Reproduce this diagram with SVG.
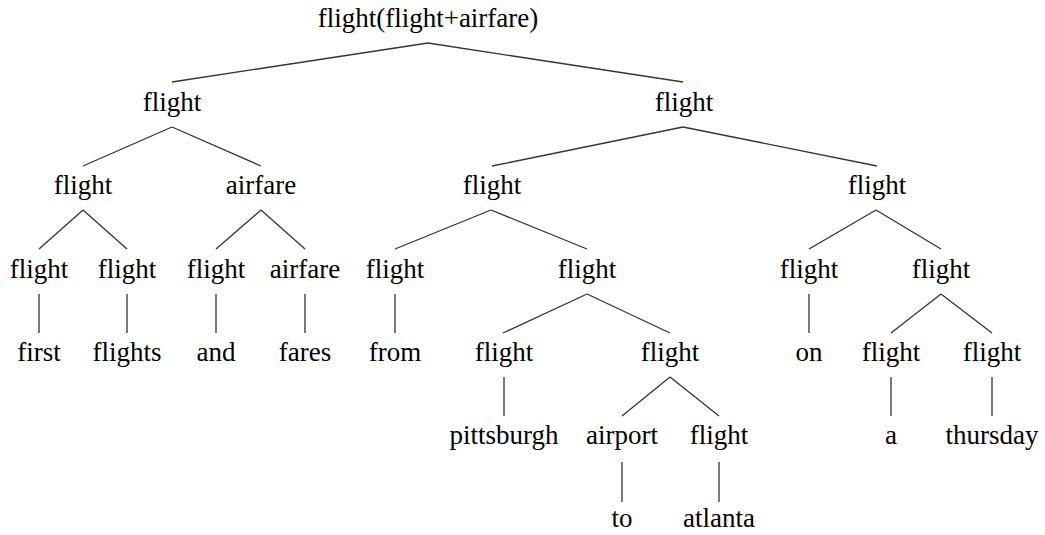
<svg xmlns="http://www.w3.org/2000/svg" width="1045" height="535" viewBox="0 0 1045 535">
<style>
text{font-family:'Liberation Serif','Times New Roman',Times,serif;font-size:27px;fill:#000;text-anchor:middle}
#edges line{stroke:#333;stroke-width:1.3;fill:none}
</style>
<rect width="1045" height="535" fill="#fff"/>
<g id="edges">
<line x1="428" y1="43" x2="172" y2="82"/>
<line x1="428" y1="43" x2="683" y2="82"/>
<line x1="172" y1="127" x2="83" y2="166"/>
<line x1="172" y1="127" x2="261" y2="166"/>
<line x1="683" y1="127" x2="492" y2="166"/>
<line x1="683" y1="127" x2="877" y2="166"/>
<line x1="83" y1="210" x2="39" y2="249"/>
<line x1="83" y1="210" x2="127" y2="249"/>
<line x1="261" y1="210" x2="216" y2="249"/>
<line x1="261" y1="210" x2="305" y2="249"/>
<line x1="491" y1="210" x2="395" y2="249"/>
<line x1="491" y1="210" x2="587" y2="249"/>
<line x1="876" y1="210" x2="809" y2="249"/>
<line x1="876" y1="210" x2="941" y2="249"/>
<line x1="39" y1="294" x2="39" y2="333"/>
<line x1="127" y1="294" x2="127" y2="333"/>
<line x1="216" y1="294" x2="216" y2="333"/>
<line x1="305" y1="294" x2="305" y2="333"/>
<line x1="395" y1="294" x2="395" y2="333"/>
<line x1="587" y1="294" x2="503" y2="333"/>
<line x1="587" y1="294" x2="670" y2="333"/>
<line x1="809" y1="294" x2="809" y2="333"/>
<line x1="941" y1="294" x2="891" y2="333"/>
<line x1="941" y1="294" x2="992" y2="333"/>
<line x1="504" y1="377" x2="504" y2="416"/>
<line x1="670" y1="377" x2="622" y2="416"/>
<line x1="670" y1="377" x2="719" y2="416"/>
<line x1="891" y1="377" x2="891" y2="416"/>
<line x1="992" y1="377" x2="992" y2="416"/>
<line x1="622" y1="462" x2="622" y2="502"/>
<line x1="719" y1="462" x2="719" y2="502"/>
</g>
<g font-family="Liberation Serif, serif">
<g id="n_root"><text x="428" y="27">flight(flight+airfare)</text></g>
<g id="n_L"><text x="172" y="111">flight</text></g>
<g id="n_R"><text x="684" y="111">flight</text></g>
<g id="n_LL"><text x="83" y="194">flight</text></g>
<g id="n_LR"><text x="261" y="194">airfare</text></g>
<g id="n_RL"><text x="492" y="194">flight</text></g>
<g id="n_RR"><text x="877" y="194">flight</text></g>
<g id="n_LLL"><text x="39" y="278">flight</text></g>
<g id="n_LLR"><text x="127" y="278">flight</text></g>
<g id="n_LRL"><text x="216" y="278">flight</text></g>
<g id="n_LRR"><text x="305" y="278">airfare</text></g>
<g id="n_RLL"><text x="395" y="278">flight</text></g>
<g id="n_RLR"><text x="587" y="278">flight</text></g>
<g id="n_RRL"><text x="809" y="278">flight</text></g>
<g id="n_RRR"><text x="941" y="278">flight</text></g>
<g id="w_first"><text x="39" y="361">first</text></g>
<g id="w_flights"><text x="127" y="361">flights</text></g>
<g id="w_and"><text x="216" y="361">and</text></g>
<g id="w_fares"><text x="305" y="361">fares</text></g>
<g id="w_from"><text x="395" y="361">from</text></g>
<g id="n_RLRL"><text x="504" y="361">flight</text></g>
<g id="n_RLRR"><text x="670" y="361">flight</text></g>
<g id="w_on"><text x="809" y="361">on</text></g>
<g id="n_RRRL"><text x="891" y="361">flight</text></g>
<g id="n_RRRR"><text x="992" y="361">flight</text></g>
<g id="w_pittsburgh"><text x="504" y="444">pittsburgh</text></g>
<g id="n_airport"><text x="622" y="444">airport</text></g>
<g id="n_RLRRR"><text x="719" y="444">flight</text></g>
<g id="w_a"><text x="891" y="444">a</text></g>
<g id="w_thursday"><text x="992" y="444">thursday</text></g>
<g id="w_to"><text x="622" y="527">to</text></g>
<g id="w_atlanta"><text x="719" y="527">atlanta</text></g>
</g>
</svg>
